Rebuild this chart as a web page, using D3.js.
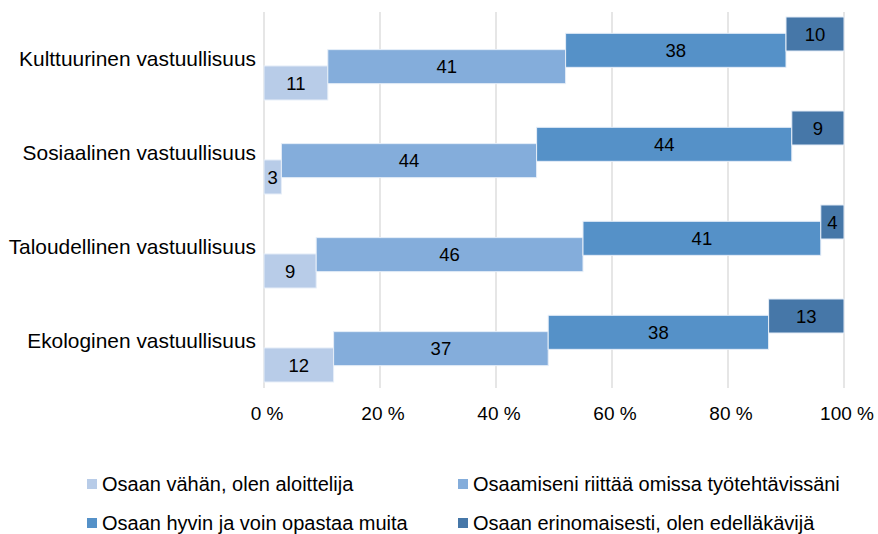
<!DOCTYPE html>
<html>
<head>
<meta charset="utf-8">
<script src="https://cdn.jsdelivr.net/npm/d3@7"></script>
<style>
  body { margin: 0; background: #fff; }
  text { font-family: "Liberation Sans", Arial, sans-serif; fill: #000; }
</style>
</head>
<body>
<div class="chart"></div>
<script>
// Data (top to bottom)
var categories = ["Kulttuurinen vastuullisuus", "Sosiaalinen vastuullisuus",
                  "Taloudellinen vastuullisuus", "Ekologinen vastuullisuus"];
var seriesNames = ["Osaan vähän, olen aloittelija",
                   "Osaamiseni riittää omissa työtehtävissäni",
                   "Osaan hyvin ja voin opastaa muita",
                   "Osaan erinomaisesti, olen edelläkävijä"];
var vahan      = [11, 3, 9, 12];
var riittaa    = [41, 44, 46, 37];
var hyvin      = [38, 44, 41, 38];
var erinomaisesti = [10, 9, 4, 13];
var seriesColors = ["#b8cce8", "#84addb", "#5591c8", "#4677a8"];
var xTicks = [0, 20, 40, 60, 80, 100];

var width = 878, height = 534;
var margin = {top: 12, left: 264, right: 34, bottom: 146};
var plotW = width - margin.left - margin.right,
    plotH = height - margin.top - margin.bottom;

var svg = d3.select(".chart").append("svg")
    .attr("width", width)
    .attr("height", height);

var g = svg.append("g")
    .attr("transform", "translate(" + margin.left + "," + margin.top + ")");

// scales
var x = d3.scaleLinear().domain([0, 100]).range([0, plotW]);
var y = d3.scaleBand().domain(categories).range([0, plotH]);
var bw = y.bandwidth();
// each series sits a step higher than the one before it
var step = d3.scalePoint().domain([3, 2, 1, 0]).range([bw * 0.053, bw * 0.574]);
var segH = bw * 0.362;

// gridlines
g.selectAll(".grid").data(xTicks).enter().append("line")
    .attr("x1", function(d) { return x(d); })
    .attr("x2", function(d) { return x(d); })
    .attr("y1", 0)
    .attr("y2", plotH)
    .attr("stroke", "#d9d9d9")
    .attr("stroke-width", 1.3);

// build stacked rows
var allSeries = [vahan, riittaa, hyvin, erinomaisesti];
var segs = [];
categories.forEach(function(c, i) {
  var start = 0;
  allSeries.forEach(function(s, j) {
    segs.push({cat: c, series: j, x0: start, x1: start + s[i], value: s[i]});
    start += s[i];
  });
});

g.selectAll(".bar").data(segs).enter().append("rect")
    .attr("class", "bar")
    .attr("x", function(d) { return x(d.x0); })
    .attr("width", function(d) { return x(d.x1) - x(d.x0); })
    .attr("y", function(d) { return y(d.cat) + step(d.series); })
    .attr("height", segH)
    .attr("fill", function(d) { return seriesColors[d.series]; })
    .attr("stroke", "#e6eef8")
    .attr("stroke-width", 1);

g.selectAll(".val").data(segs).enter().append("text")
    .attr("x", function(d) { return (x(d.x0) + x(d.x1)) / 2; })
    .attr("y", function(d) { return y(d.cat) + step(d.series) + segH / 2; })
    .attr("dy", "0.36em")
    .attr("text-anchor", "middle")
    .style("font-size", "18.5px")
    .text(function(d) { return d.value; });

// category labels
g.selectAll(".cat").data(categories).enter().append("text")
    .attr("x", -8)
    .attr("y", function(d) { return y(d) + bw / 2 - 1; })
    .attr("dy", "0.36em")
    .attr("text-anchor", "end")
    .style("font-size", "20.9px")
    .text(function(d) { return d; });

// x axis labels
g.selectAll(".tick").data(xTicks).enter().append("text")
    .attr("x", function(d) { return x(d) + 3; })
    .attr("y", plotH + 25)
    .attr("dy", "0.36em")
    .attr("text-anchor", "middle")
    .style("font-size", "19px")
    .text(function(d) { return d + " %"; });

// legend
var legendPos = [[87, 484], [458, 484], [87, 523], [458, 523]];
var legend = svg.selectAll(".legend").data(seriesNames).enter().append("g")
    .attr("transform", function(d, i) {
      return "translate(" + legendPos[i][0] + "," + legendPos[i][1] + ")";
    });
legend.append("rect")
    .attr("x", 0).attr("y", -5)
    .attr("width", 10).attr("height", 10)
    .attr("fill", function(d, i) { return seriesColors[i]; });
legend.append("text")
    .attr("x", 15)
    .attr("dy", "0.36em")
    .style("font-size", "20px")
    .text(function(d) { return d; });
</script>
</body>
</html>
